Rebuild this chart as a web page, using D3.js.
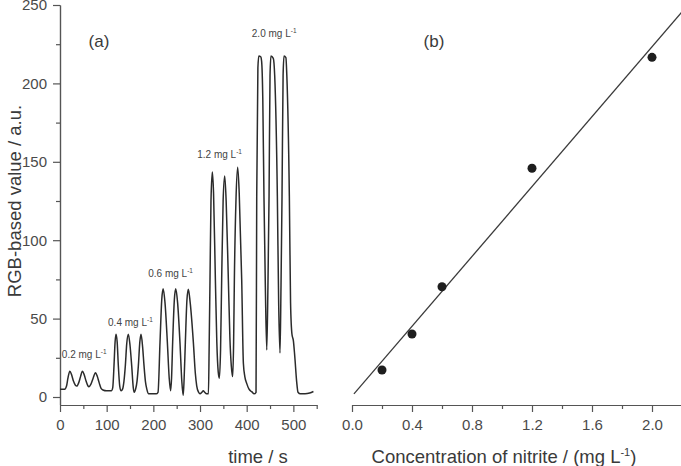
<!DOCTYPE html>
<html>
<head>
<meta charset="utf-8">
<script src="https://cdn.jsdelivr.net/npm/d3@7"></script>
<style>
  body { margin: 0; background: #fff; }
  text { font-family: "Liberation Sans", Arial, sans-serif; fill: #3a3a3a; }
  .axis path, .axis line { stroke: #555; stroke-width: 1.2; }
  .axis text { font-size: 15px; fill: #4a4a4a; }
</style>
</head>
<body>
<svg id="chart" width="681" height="466"></svg>
<script>
// (a) RGB trace: time in s, value in a.u.
const traceTime = [
  0, 10, 14, 17, 21, 25, 29, 33, 36, 40, 44, 48, 52, 56, 60, 62, 66, 71, 76, 80, 84, 88, 92, 100, 110,
  113, 115.7, 118, 120, 122.5, 125, 128, 131, 134, 137, 140, 143, 146.4, 150, 153.6, 157, 159, 162, 165, 167.9, 171, 173.6, 177, 180, 183, 186, 190, 200,
  206, 210, 214.3, 218, 221, 225, 230, 234, 237, 239, 241.4, 245, 248, 252, 257, 261, 264, 266, 268.6, 272, 275, 279, 285.7, 290, 293, 297, 300, 304, 307, 310, 314, 318,
  319.5, 321.4, 323.5, 326.4, 329, 332.9, 336, 339, 341.4, 344, 346.4, 349.5, 352.9, 356, 360.7, 364, 367, 370, 372, 373.6, 377, 380.7, 384, 389.3, 392.9, 396, 400, 405, 410.7, 416,
  420, 421.5, 424, 426, 430, 432, 434.5, 437, 440, 443, 445.5, 447.9, 450, 452, 457, 460, 465.7, 468.5, 471.4, 473.5, 475.7, 478, 480, 484, 486, 491.4, 494, 497, 500, 503, 507, 510, 515, 525, 535, 543
];
const traceValue = [
  5, 5, 7, 12, 16.5, 14, 10, 7.5, 7, 9, 13, 16.5, 14, 10, 7, 6.5, 8, 12, 15.5, 13, 9, 5.5, 4.5, 4, 4,
  6, 20, 35, 40, 35, 20, 7, 4, 5, 10, 20, 34, 40, 33, 20, 6, 3, 5, 10, 20, 35, 40, 32, 20, 10, 5, 2, 2,
  2, 3, 35, 62, 69, 60, 35, 12, 4, 12, 35, 62, 69, 60, 35, 10, 1, 12, 35, 62, 68.7, 60, 35, 15, 7, 3, 2, 3, 4, 3, 2, 2,
  30, 75, 125, 143.5, 130, 75, 35, 16, 12, 30, 75, 125, 141, 125, 75, 38, 20, 13, 35, 75, 125, 146.5, 130, 75, 21.5, 13, 8.7, 5, 3.4, 2,
  3, 128, 210, 217.5, 217, 214, 190, 128, 70, 30, 70, 128, 205, 217.5, 216, 205, 128, 60, 28, 70, 128, 205, 217.5, 216.5, 205, 128, 60, 40, 36, 26, 10, 3, 2, 2, 2.5, 3.5
];

// concentration labels over each group of peaks
const groupLabels = ["0.2", "0.4", "0.6", "1.2", "2.0"];
const groupLabelTime = [4, 103, 189, 294, 411];
const groupLabelValue = [25, 45, 76.5, 152.5, 229.5];

// (b) calibration points and fitted line
const concentration = [0.2, 0.4, 0.6, 1.2, 2.0];
const calibValue = [17.2, 40.2, 70.3, 145.9, 216.6];
const fitSlope = 111.4;
const fitIntercept = 0.5;
const fitRange = [0.013, 2.2];

// tick values
const timeTicks = [0, 100, 200, 300, 400, 500];
const timeMinorTicks = [50, 150, 250, 350, 450, 550];
const valueTicks = [0, 50, 100, 150, 200, 250];
const valueMinorTicks = [25, 75, 125, 175, 225];
const concTicks = [0, 0.4, 0.8, 1.2, 1.6, 2.0];
const concMinorTicks = [0.2, 0.6, 1.0, 1.4, 1.8];

var svg = d3.select("#chart");

const axisY = 405;

const xTime = d3.scaleLinear().domain([0, 550]).range([60, 316.7]);
const yValue = d3.scaleLinear().domain([-5, 250]).range([404.84, 5]);
const xConc = d3.scaleLinear().domain([0, 2.2]).range([352, 682]);

//---- panel (a) axes
svg.append("g")
    .attr("class", "axis")
    .attr("transform", "translate(0," + axisY + ")")
    .call(d3.axisBottom(xTime).tickValues(timeTicks).tickSize(7).tickSizeOuter(0).tickPadding(7.5));
svg.append("g")
    .attr("class", "axis")
    .attr("transform", "translate(0," + axisY + ")")
    .call(d3.axisBottom(xTime).tickValues(timeMinorTicks).tickSize(4).tickSizeOuter(0).tickFormat(""));

svg.append("g")
    .attr("class", "axis")
    .attr("transform", "translate(60,0)")
    .call(d3.axisLeft(yValue).tickValues(valueTicks).tickSize(7).tickSizeOuter(0).tickPadding(6));
svg.append("g")
    .attr("class", "axis")
    .attr("transform", "translate(60,0)")
    .call(d3.axisLeft(yValue).tickValues(valueMinorTicks).tickSize(4).tickSizeOuter(0).tickFormat(""));

//---- panel (a) trace
const trace = traceTime.map((t, i) => [t, traceValue[i]]);
const traceLine = d3.line()
    .x(d => xTime(d[0]))
    .y(d => yValue(d[1]))
    .curve(d3.curveMonotoneX);

svg.append("path")
    .datum(trace)
    .attr("d", traceLine)
    .attr("fill", "none")
    .attr("stroke", "#2b2b2b")
    .attr("stroke-width", 1.5);

// group labels "x mg L-1"
groupLabels.forEach((lab, i) => {
    let t = svg.append("text")
        .attr("x", xTime(groupLabelTime[i]))
        .attr("y", yValue(groupLabelValue[i]))
        .style("font-size", "10px")
        .style("fill", "#444");
    t.append("tspan").text(lab + " mg L");
    t.append("tspan").attr("dy", -4).style("font-size", "6.5px").text("-1");
});

svg.append("text")
    .attr("x", 99)
    .attr("y", 47)
    .attr("text-anchor", "middle")
    .style("font-size", "17px")
    .text("(a)");

//---- panel (b)
svg.append("g")
    .attr("class", "axis")
    .attr("transform", "translate(0," + axisY + ")")
    .call(d3.axisBottom(xConc).tickValues(concTicks).tickSize(7).tickSizeOuter(0).tickPadding(7.5)
        .tickFormat(d3.format(".1f")));
svg.append("g")
    .attr("class", "axis")
    .attr("transform", "translate(0," + axisY + ")")
    .call(d3.axisBottom(xConc).tickValues(concMinorTicks).tickSize(4).tickSizeOuter(0).tickFormat(""));

svg.append("line")
    .attr("x1", xConc(fitRange[0]))
    .attr("y1", yValue(fitSlope * fitRange[0] + fitIntercept))
    .attr("x2", xConc(fitRange[1]))
    .attr("y2", yValue(fitSlope * fitRange[1] + fitIntercept))
    .style("stroke", "#3a3a3a")
    .style("stroke-width", 1.3);

concentration.forEach((c, i) => {
    svg.append("circle")
        .attr("cx", xConc(c))
        .attr("cy", yValue(calibValue[i]))
        .attr("r", 4.5)
        .style("fill", "#1e1e1e");
});

svg.append("text")
    .attr("x", 434)
    .attr("y", 47)
    .attr("text-anchor", "middle")
    .style("font-size", "17px")
    .text("(b)");

//---- axis titles
svg.append("text")
    .attr("transform", "translate(21,201)rotate(270)")
    .attr("text-anchor", "middle")
    .style("font-size", "18.5px")
    .text("RGB-based value / a.u.");

svg.append("text")
    .attr("x", 258)
    .attr("y", 463)
    .attr("text-anchor", "middle")
    .style("font-size", "18.5px")
    .text("time / s");

let concTitle = svg.append("text")
    .attr("x", 504)
    .attr("y", 463)
    .attr("text-anchor", "middle")
    .style("font-size", "18.5px");
concTitle.append("tspan").text("Concentration of nitrite / (mg L");
concTitle.append("tspan").attr("dy", -7).style("font-size", "11px").text("-1");
concTitle.append("tspan").attr("dy", 7).text(")");
</script>
</body>
</html>
